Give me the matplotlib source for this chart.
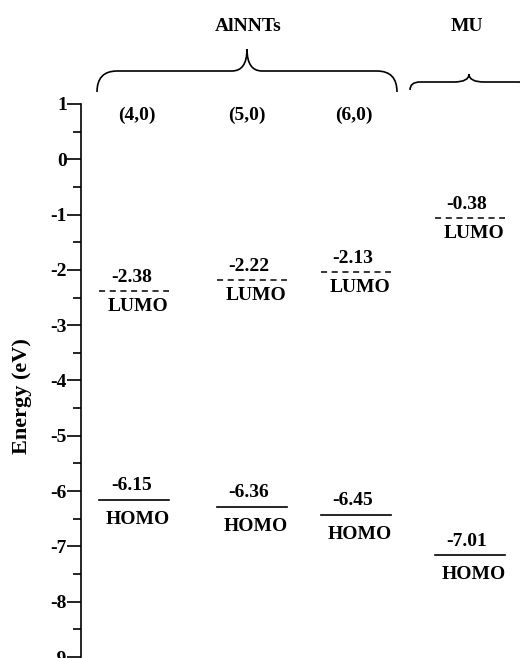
import matplotlib
matplotlib.use("Agg")
import matplotlib.pyplot as plt
from matplotlib.path import Path
from matplotlib.patches import PathPatch

# data
columns = ["(4,0)", "(5,0)", "(6,0)", "MU"]
lumo = [-2.38, -2.22, -2.13, -0.38]          # printed values
homo = [-6.15, -6.36, -6.45, -7.01]
lumo_level = [-2.39, -2.19, -2.04, -1.07]    # where the levels are drawn
homo_level = [-6.16, -6.28, -6.43, -7.16]
yticks = list(range(-9, 2))

plt.rcParams['font.family'] = ['Liberation Serif', 'DejaVu Serif']
plt.rcParams['font.weight'] = 'bold'
plt.rcParams['font.size'] = 14

fig = plt.figure(figsize=(5.2, 6.58), dpi=100)
ax = fig.add_axes([81 / 520, 1 / 658, 439 / 520, 553 / 658])
ax.set_xlim(81, 520)
ax.set_ylim(-9, 1)

for s in ['top', 'right', 'bottom']:
    ax.spines[s].set_visible(False)
ax.spines['left'].set_linewidth(1.2)
ax.set_xticks([])
ax.set_yticks(yticks)
ax.set_yticklabels([str(t) for t in yticks])
ax.set_yticks([t + 0.5 for t in yticks[:-1]], minor=True)
ax.tick_params(axis='y', which='major', direction='out', length=10, width=1.2, pad=0, labelsize=14)
ax.tick_params(axis='y', which='minor', direction='out', length=5.8, width=1.2)

fig.text(22 / 520, 1 - 396 / 658, "Energy (eV)", rotation=90, ha='center', va='center', fontsize=16, fontweight='bold')

# x centre of each level and half width (pixel-like units)
xc = [134, 251.5, 355.5, 469.5]
hw = 35

for i in range(len(columns)):
    ax.plot([xc[i] - hw, xc[i] + hw], [lumo_level[i]] * 2, color='black', lw=1.1,
            linestyle=(0, (4, 3)), solid_capstyle='butt')
    ax.plot([xc[i] - hw, xc[i] + hw], [homo_level[i]] * 2, color='black', lw=1.2)
    ax.annotate("%.2f" % lumo[i], (xc[i], lumo_level[i]), xytext=(-2, 4), textcoords='offset points',
                ha='center', va='bottom', fontsize=14, fontweight='bold')
    ax.annotate("LUMO", (xc[i], lumo_level[i]), xytext=(3, -5), textcoords='offset points',
                ha='center', va='top', fontsize=14, fontweight='bold')
    ax.annotate("%.2f" % homo[i], (xc[i], homo_level[i]), xytext=(-2, 4), textcoords='offset points',
                ha='center', va='bottom', fontsize=14, fontweight='bold')
    ax.annotate("HOMO", (xc[i], homo_level[i]), xytext=(3, -8), textcoords='offset points',
                ha='center', va='top', fontsize=14, fontweight='bold')


def py(p):
    # pixel row -> data y
    return 1 - (p - 104) / 55.3


# column labels
for x, lab in zip([137, 247, 354], columns[:3]):
    ax.text(x, py(115), lab, ha='center', va='center', fontsize=14, fontweight='bold', clip_on=False)

ax.text(248, py(27), "AlNNTs", ha='center', va='center', fontsize=14, fontweight='bold', clip_on=False)
ax.text(467, py(27), "MU", ha='center', va='center', fontsize=14, fontweight='bold', clip_on=False)


def brace(x0, x1, xm, yend, ybar, ytip, r):
    verts = [(x0, yend), (x0, ybar), (x0 + r, ybar),
             (xm - 15, ybar),
             (xm, ybar), (xm, ytip),
             (xm, ybar), (xm + 15, ybar),
             (x1 - r, ybar),
             (x1, ybar), (x1, yend)]
    codes = [Path.MOVETO, Path.CURVE3, Path.CURVE3,
             Path.LINETO,
             Path.CURVE3, Path.CURVE3,
             Path.CURVE3, Path.CURVE3,
             Path.LINETO,
             Path.CURVE3, Path.CURVE3]
    p = PathPatch(Path(verts, codes), fill=False, lw=1.2, edgecolor='black', clip_on=False)
    ax.add_patch(p)


brace(97, 397, 247, py(92), py(71), py(49), 20)
brace(410, 528, 469, py(90), py(82), py(74), 10)

fig.savefig("out.png", dpi=100)
